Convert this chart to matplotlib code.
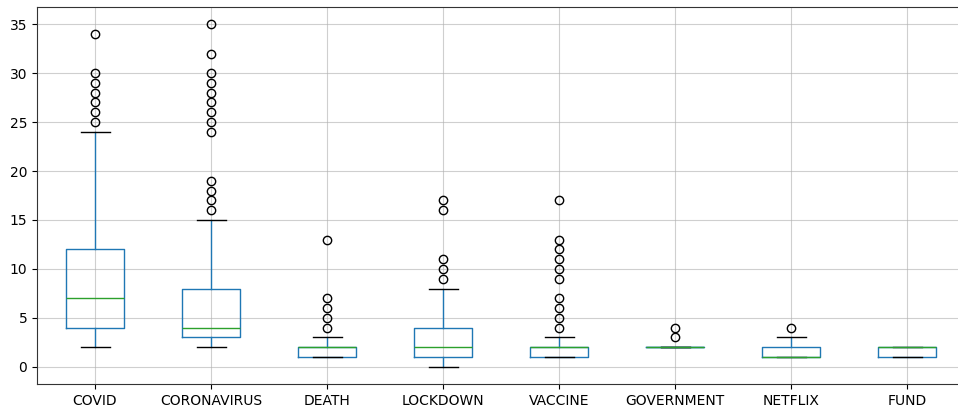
import matplotlib
matplotlib.use("Agg")
import matplotlib.pyplot as plt

# Keyword frequency per document, summarised as box statistics
keywords = ["COVID", "CORONAVIRUS", "DEATH", "LOCKDOWN", "VACCINE",
            "GOVERNMENT", "NETFLIX", "FUND"]
whisker_low = [2, 2, 1, 0, 1, 2, 1, 1]
q1 = [4, 3, 1, 1, 1, 2, 1, 1]
median = [7, 4, 2, 2, 2, 2, 1, 2]
q3 = [12, 8, 2, 4, 2, 2, 2, 2]
whisker_high = [24, 15, 3, 8, 3, 2, 3, 2]
outliers = [
    [25, 26, 27, 28, 29, 30, 34],
    [16, 17, 18, 19, 24, 25, 26, 27, 28, 29, 30, 32, 35],
    [4, 5, 6, 7, 13],
    [9, 10, 11, 16, 17],
    [4, 5, 6, 7, 9, 10, 11, 12, 13, 17],
    [3, 4],
    [4],
    [],
]

stats = []
for i, name in enumerate(keywords):
    stats.append(dict(label=name, whislo=whisker_low[i], q1=q1[i], med=median[i],
                      q3=q3[i], whishi=whisker_high[i], fliers=outliers[i]))

W, H = 958, 413
fig = plt.figure(figsize=(W / 100, H / 100), dpi=100)
ax = fig.add_axes([37 / W, (H - 384) / H, (965 - 37) / W, (384 - 7) / H])

ax.bxp(stats, positions=range(1, len(keywords) + 1), widths=0.5,
       boxprops=dict(color="#1f77b4", linewidth=1),
       whiskerprops=dict(color="#1f77b4", linewidth=1),
       medianprops=dict(color="#2ca02c", linewidth=1),
       capprops=dict(color="k", linewidth=1),
       flierprops=dict(marker="o", markerfacecolor="none",
                       markeredgecolor="k", markersize=6))

ax.set_xlim(0.5, len(keywords) + 0.5)
ax.set_ylim(-1.75, 36.75)
ax.set_yticks(range(0, 36, 5))
ax.grid(True, color="#b0b0b0", linewidth=0.8, alpha=0.6)
ax.set_axisbelow(True)
ax.tick_params(labelsize=10)
for s in ax.spines.values():
    s.set_color("#333333")

fig.savefig("out.png", dpi=100)
